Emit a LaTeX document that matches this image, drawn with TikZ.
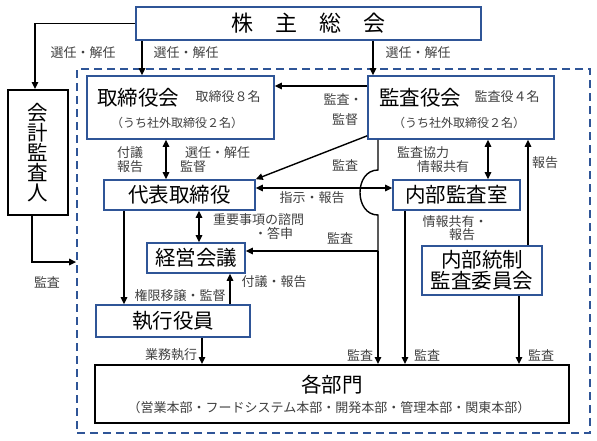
\documentclass[tikz,border=0pt]{standalone}
\usepackage{fontspec}
\setmainfont{Noto Sans CJK JP}
\usetikzlibrary{arrows.meta}
\definecolor{frameblue}{HTML}{2F5597}
\definecolor{lblgray}{HTML}{404040}
\tikzset{
  bluebox/.style={draw=frameblue,line width=1.6pt,inner sep=0pt,fill=white},
  blackbox/.style={draw=black,line width=2pt,inner sep=0pt,fill=white},
  bigtxt/.style={font=\fontsize{20.5pt}{21pt}\selectfont,text=black},
  lbl/.style={font=\fontsize{13pt}{14.5pt}\selectfont,inner sep=0pt,text=lblgray},
  sublbl/.style={font=\fontsize{12pt}{14pt}\selectfont,inner sep=0pt,text=lblgray},
  conn/.style={line width=1.4pt},
  arr/.style={line width=1.4pt,-{Triangle[length=7pt,width=6.5pt]}},
  darr/.style={line width=1.4pt,{Triangle[length=7pt,width=6.5pt]}-{Triangle[length=7pt,width=6.5pt]}},
}
\begin{document}
\begin{tikzpicture}[x=1pt,y=-1pt]
\useasboundingbox (0,0) rectangle (597,440);
% frame
\node[draw=frameblue,line width=1.8pt,dash pattern=on 8pt off 5pt,minimum width=513pt,minimum height=364pt,inner sep=0pt] (frame) at (333.5,251) {};
% boxes
\node[bluebox,minimum width=345pt,minimum height=33pt,font=\fontsize{22pt}{22pt}\selectfont] (sh) at (308.5,23.5) {株\hspace{1.0em}主\hspace{1.0em}総\hspace{1.0em}会};
\node[blackbox,minimum width=60pt,minimum height=125pt,align=center,font=\fontsize{20.5pt}{20pt}\selectfont] (aud) at (38,152.5) {会\\計\\監\\査\\人};
\node[bluebox,minimum width=187pt,minimum height=63pt] (board) at (180.5,107.5) {};
\node[bluebox,minimum width=186pt,minimum height=63pt] (kansa) at (461,107.5) {};
\node[bluebox,bigtxt,minimum width=151pt,minimum height=30pt] (ceo) at (179.5,195) {代表取締役};
\node[bluebox,bigtxt,minimum width=127pt,minimum height=30pt] (room) at (456.5,195) {内部監査室};
\node[bluebox,bigtxt,minimum width=98pt,minimum height=30pt] (mgmt) at (196,258) {経営会議};
\node[bluebox,bigtxt,minimum width=154pt,minimum height=32pt] (exec) at (173,321) {執行役員};
\node[bluebox,bigtxt,align=center,minimum width=120pt,minimum height=49pt] (ic) at (482,270.5) {内部統制\\監査委員会};
\node[blackbox,minimum width=474pt,minimum height=58pt] (depts) at (332,394) {};
% texts inside boxes
\node[bigtxt,inner sep=0pt] (boardt) at (138,98) {取締役会};
\node[lbl] (boardn) at (228,97) {取締役８名};
\node[sublbl] (boardo) at (177,123) {（うち社外取締役２名）};
\node[bigtxt,inner sep=0pt] (kansat) at (420,98) {監査役会};
\node[lbl] (kansan) at (507,97) {監査役４名};
\node[sublbl] (kansao) at (459,123) {（うち社外取締役２名）};
\node[bigtxt,inner sep=0pt] (deptst) at (332,385) {各部門};
\node[lbl] (deptso) at (329,408) {（営業本部・フードシステム本部・開発本部・管理本部・関東本部）};
% helper coordinates
\coordinate (c32) at (32,0);
\coordinate (c35) at (35,0);
\coordinate (c124) at (124,0);
\coordinate (c142) at (142,0);
\coordinate (c166) at (166,0);
\coordinate (c199) at (199,0);
\coordinate (c202) at (202,0);
\coordinate (c230) at (230,0);
\coordinate (c373) at (373,0);
\coordinate (c378) at (378,0);
\coordinate (c405) at (405,0);
\coordinate (c488) at (488,0);
\coordinate (c519) at (519,0);
\coordinate (c528) at (528,0);
\coordinate (r86) at (0,86);
\coordinate (r170) at (0,170);
\coordinate (r188) at (0,188);
\coordinate (r215) at (0,215);
\coordinate (r251) at (0,251);
\coordinate (r262) at (0,262);
% connectors
\draw[arr] (sh.west) -| (c35 |- aud.north);
\draw[arr] (c142 |- sh.south) -- (c142 |- board.north);
\draw[arr] (c373 |- sh.south) -- (c373 |- kansa.north);
\draw[arr] (kansa.west |- r86) -- (board.east |- r86);
\draw[darr] (c166 |- board.south) -- (c166 |- ceo.north);
\draw[arr] ([yshift=4pt]kansa.south west) -- (ceo.north east);
\draw[darr] (ceo.east |- r188) -- (room.west |- r188);
\draw[conn] (c378 |- kansa.south) -- (c378 |- r170) .. controls +(-24,0) and +(-24,0) .. (c378 |- r215) -- (c378 |- r251);
\draw[arr] (c378 |- r251) -- (c378 |- depts.north);
\draw[arr] (c378 |- r251) -- (mgmt.east |- r251);
\draw[arr] (c124 |- ceo.south) -- (c124 |- exec.north);
\draw[arr] (c230 |- exec.north) -- (c230 |- mgmt.south);
\draw[darr] (c199 |- ceo.south) -- (c199 |- mgmt.north);
\draw[arr] (c202 |- exec.south) -- (c202 |- depts.north);
\draw[arr] (c405 |- room.south) -- (c405 |- depts.north);
\draw[arr] (c519 |- ic.south) -- (c519 |- depts.north);
\draw[arr] (c528 |- ic.north) -- (c528 |- kansa.south);
\draw[darr] (c488 |- kansa.south) -- (c488 |- room.north);
\draw[arr] (c32 |- aud.south) |- (frame.west |- r262);
% labels
\node[lbl] (l1) at (83,53) {選任・解任};
\node[lbl] (l2) at (186,53) {選任・解任};
\node[lbl] (l3) at (418,53) {選任・解任};
\node[lbl] (l4a) at (343,99) {監査・};
\node[lbl] (l4b) at (345,120) {監督};
\node[lbl] (l5a) at (130,153) {付議};
\node[lbl] (l5b) at (130,167) {報告};
\node[lbl,anchor=west] (l6a) at (185,153) {選任・解任};
\node[lbl,anchor=west] (l6b) at (180,167) {監督};
\node[lbl] (l7) at (345,165) {監査};
\node[lbl] (l8) at (312,198) {指示・報告};
\node[lbl,anchor=west] (l9a) at (213,220) {重要事項の諮問};
\node[lbl,anchor=west] (l9b) at (254,233) {・答申};
\node[lbl] (l10) at (340,238) {監査};
\node[lbl] (l11) at (274,282) {付議・報告};
\node[lbl] (l12) at (180,296) {権限移譲・監督};
\node[lbl] (l13) at (171,355) {業務執行};
\node[lbl,anchor=west] (l14a) at (397,153) {監査協力};
\node[lbl,anchor=west] (l14b) at (417,167) {情報共有};
\node[lbl] (l15) at (545,163) {報告};
\node[lbl] (l16a) at (455,222) {情報共有・};
\node[lbl] (l16b) at (462,235) {報告};
\node[lbl] (l17) at (360,355) {監査};
\node[lbl] (l18) at (427,355) {監査};
\node[lbl] (l19) at (541,355) {監査};
\node[lbl] (l20) at (47,282) {監査};
\end{tikzpicture}
\end{document}
